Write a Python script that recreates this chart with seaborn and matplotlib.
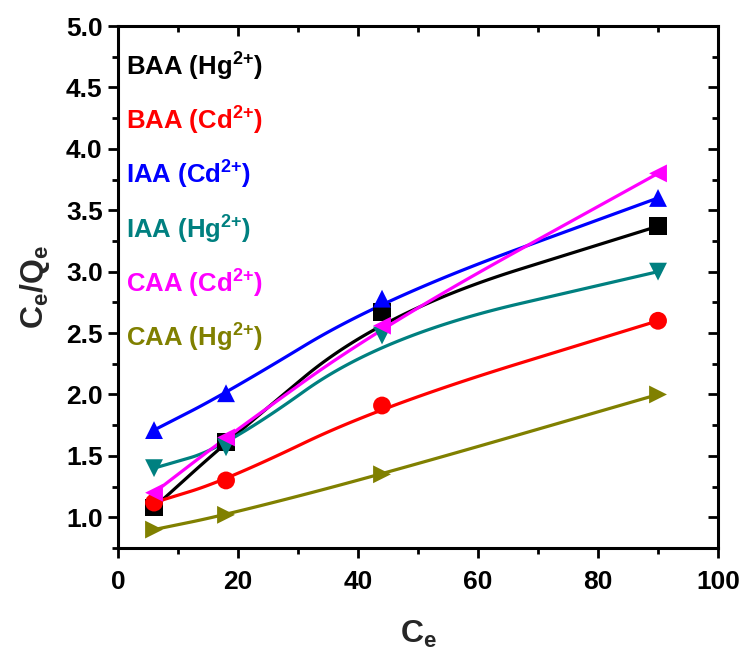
import numpy as np
import pandas as pd
import matplotlib
matplotlib.use("Agg")
import matplotlib.pyplot as plt
from matplotlib.lines import Line2D
from matplotlib.ticker import MultipleLocator
import seaborn as sns

# Equilibrium concentration (Ce) and Ce/Qe for each adsorbent / metal ion
ce = [6, 18, 44, 90]
baa_hg = [1.08, 1.61, 2.67, 3.37]
baa_cd = [1.12, 1.30, 1.91, 2.60]
iaa_cd = [1.71, 2.01, 2.78, 3.60]
iaa_hg = [1.40, 1.57, 2.48, 3.00]
caa_cd = [1.20, 1.65, 2.56, 3.80]
caa_hg = [0.90, 1.02, 1.35, 2.00]

series_names = ["BAA (Hg$^{2{+}}$)", "BAA (Cd$^{2{+}}$)", "IAA (Cd$^{2{+}}$)",
                "IAA (Hg$^{2{+}}$)", "CAA (Cd$^{2{+}}$)", "CAA (Hg$^{2{+}}$)"]
series_values = [baa_hg, baa_cd, iaa_cd, iaa_hg, caa_cd, caa_hg]
colors = ["#000000", "#FF0000", "#0000FF", "#008080", "#FF00FF", "#808000"]
markers = ["s", "o", "^", "v", "<", ">"]

x_ticks = [0, 20, 40, 60, 80, 100]
y_ticks = [1.0, 1.5, 2.0, 2.5, 3.0, 3.5, 4.0, 4.5, 5.0]

df = pd.concat(
    [pd.DataFrame({"Ce": ce, "ratio": v, "series": n})
     for n, v in zip(series_names, series_values)],
    ignore_index=True,
)


def rounded_path(x, y, n=60):
    """Polyline through the points with its inner corners rounded off by
    quadratic Bezier arcs between neighbouring segment midpoints."""
    p = np.column_stack([x, y]).astype(float)
    mids = (p[:-1] + p[1:]) / 2
    out = [p[0]]
    t = np.linspace(0, 1, n)[:, None]
    for i in range(1, len(p) - 1):
        a, c, b = mids[i - 1], p[i], mids[i]
        seg = (1 - t) ** 2 * a + 2 * (1 - t) * t * c + t ** 2 * b
        out.extend(seg)
    out.append(p[-1])
    out = np.array(out)
    return out[:, 0], out[:, 1]


sns.set_theme(style="white")
plt.rcParams["font.family"] = ["Liberation Sans", "DejaVu Sans"]
plt.rcParams["font.weight"] = "bold"
plt.rcParams["mathtext.fontset"] = "custom"
plt.rcParams["mathtext.rm"] = "Liberation Sans:bold"
plt.rcParams["mathtext.it"] = "Liberation Sans:bold"
plt.rcParams["mathtext.bf"] = "Liberation Sans:bold"

fig = plt.figure(figsize=(7.46, 6.60), dpi=100)
ax = fig.add_axes([0.1582, 0.1697, 0.8043, 0.7909])

# smooth connecting curves
for vals, col in zip(series_values, colors):
    xs, ys = rounded_path(ce, vals)
    ax.plot(xs, ys, color=col, lw=2.3, zorder=2, solid_capstyle="round")

sns.scatterplot(data=df, x="Ce", y="ratio", hue="series", style="series",
                palette=dict(zip(series_names, colors)),
                markers=dict(zip(series_names, markers)),
                s=165, edgecolor="none", linewidth=0, legend=False,
                ax=ax, zorder=3)

ax.set_xlim(0, 100)
ax.set_ylim(0.75, 5.0)
ax.set_xticks(x_ticks)
ax.set_yticks(y_ticks)
ax.xaxis.set_minor_locator(MultipleLocator(10))
ax.yaxis.set_minor_locator(MultipleLocator(0.25))
ax.set_xticklabels([str(t) for t in x_ticks])
ax.set_yticklabels([f"{t:.1f}" for t in y_ticks])

for s in ax.spines.values():
    s.set_visible(True)
    s.set_color("black")
    s.set_linewidth(2.2)

ax.tick_params(which="both", bottom=True, left=True, top=True, right=True,
               labelsize=19, width=2.0, colors="black", direction="out")
ax.tick_params(which="major", length=7)
ax.tick_params(which="minor", length=4.5)
ax.tick_params(axis="x", pad=9)
ax.tick_params(axis="y", pad=4)
# top and right ticks point inward
for tick in ax.xaxis.get_major_ticks() + ax.xaxis.get_minor_ticks():
    tick.tick2line.set_marker(3)
for tick in ax.yaxis.get_major_ticks() + ax.yaxis.get_minor_ticks():
    tick.tick2line.set_marker(0)
for lab in ax.get_xticklabels() + ax.get_yticklabels():
    lab.set_fontweight("bold")

ax.set_xlabel("C$_\\mathregular{e}$", fontsize=23, fontweight="bold", labelpad=18)
ax.set_ylabel("C$_\\mathregular{e}$/Q$_\\mathregular{e}$", fontsize=23,
              fontweight="bold", labelpad=10)

handles = [Line2D([], [], color=c, linestyle="none") for c in colors]
leg = ax.legend(handles, series_names, loc="upper left",
                bbox_to_anchor=(-0.025, 0.997), frameon=False,
                handlelength=0, handletextpad=0, labelspacing=0.86,
                prop={"size": 18.5, "weight": "bold"})
for txt, c in zip(leg.get_texts(), colors):
    txt.set_color(c)

fig.savefig("out.png", dpi=100)
